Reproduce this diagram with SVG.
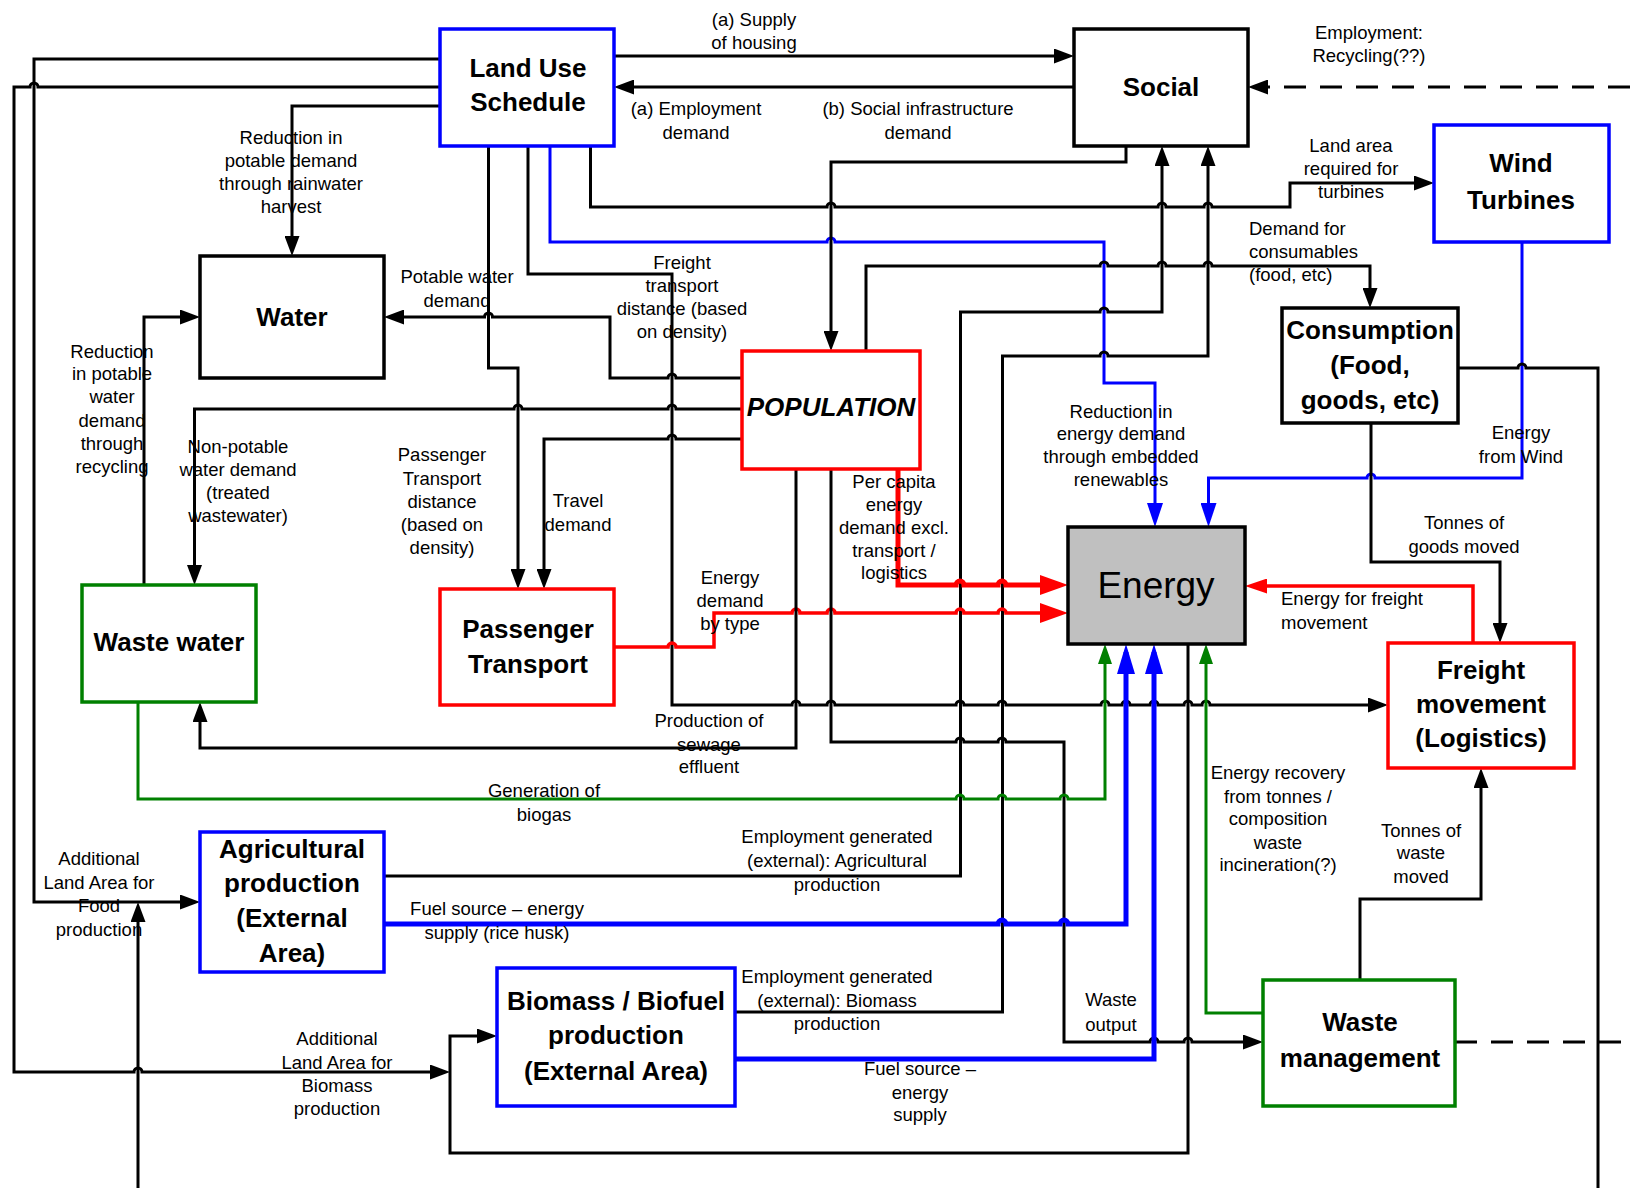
<svg xmlns="http://www.w3.org/2000/svg" width="1630" height="1188" viewBox="0 0 1630 1188">
<style>
.box{fill:#fff;stroke-width:3.5}
.bk{stroke:#000}.bl{stroke:#0000ff}.rd{stroke:#ff0000}.gr{stroke:#008000}
.nt{font-family:"Liberation Sans",Arial,sans-serif;font-size:26px;font-weight:bold;text-anchor:middle;fill:#000}
.lt{font-family:"Liberation Sans",Arial,sans-serif;font-size:18.5px;text-anchor:middle;fill:#000}
.ll{text-anchor:start}
.c{fill:none;stroke-width:3;stroke-linejoin:miter}
.th{stroke-width:5}
.dash{stroke-dasharray:22 14}
</style>
<defs>
<marker id="ab" markerUnits="userSpaceOnUse" viewBox="0 0 20 15" markerWidth="20" markerHeight="15" refX="12" refY="7.5" orient="auto"><path d="M0,0L20,7.5L0,15Z" fill="#000"/></marker>
<marker id="ar" markerUnits="userSpaceOnUse" viewBox="0 0 28 20" markerWidth="28" markerHeight="20" refX="20" refY="10" orient="auto"><path d="M0,0L28,10L0,20Z" fill="#ff0000"/></marker>
<marker id="ars" markerUnits="userSpaceOnUse" viewBox="0 0 22 15" markerWidth="22" markerHeight="15" refX="14" refY="7.5" orient="auto"><path d="M0,0L22,7.5L0,15Z" fill="#ff0000"/></marker>
<marker id="abl" markerUnits="userSpaceOnUse" viewBox="0 0 30 18" markerWidth="30" markerHeight="18" refX="22" refY="9" orient="auto"><path d="M0,0L30,9L0,18Z" fill="#0000ff"/></marker>
<marker id="abt" markerUnits="userSpaceOnUse" viewBox="0 0 24 16" markerWidth="24" markerHeight="16" refX="16" refY="8" orient="auto"><path d="M0,0L24,8L0,16Z" fill="#0000ff"/></marker>
<marker id="ag" markerUnits="userSpaceOnUse" viewBox="0 0 20 14" markerWidth="20" markerHeight="14" refX="12" refY="7" orient="auto"><path d="M0,0L20,7L0,14Z" fill="#008000"/></marker>
</defs>
<rect width="1630" height="1188" fill="#fff"/>

<g id="connectors">
<path class="c bk" marker-end="url(#ab)" d="M614,56L1066,56"/>
<path class="c bk" marker-end="url(#ab)" d="M1074,87L622,87"/>
<path class="c bk dash" marker-end="url(#ab)" d="M1630,87L1256,87"/>
<path class="c bk" marker-end="url(#ab)" d="M440,59L34,59L34,902L192,902"/>
<path class="c bk" marker-end="url(#ab)" d="M440,87L38,87A4,4 0 0 0 30,87L14,87L14,1072L134,1072A4,4 0 0 1 142,1072L442,1072"/>
<path class="c bk" marker-end="url(#ab)" d="M440,106L292,106L292,248"/>
<path class="c bk" marker-end="url(#ab)" d="M590.5,146L590.5,207L827,207A4,4 0 0 1 835,207L1158,207A4,4 0 0 1 1166,207L1204,207A4,4 0 0 1 1212,207L1290,207L1290,183L1426,183"/>
<path class="c bl" marker-end="url(#abt)" d="M550,146L550,242L827,242A4,4 0 0 1 835,242L1104,242L1104,383L1155,383L1155,519"/>
<path class="c bk" marker-end="url(#ab)" d="M528,146L528,274L672,274L672,705L792,705A4,4 0 0 1 800,705L827,705A4,4 0 0 1 835,705L956,705A4,4 0 0 1 964,705L998,705A4,4 0 0 1 1006,705L1101,705A4,4 0 0 1 1109,705L1122,705A4,4 0 0 1 1130,705L1150,705A4,4 0 0 1 1158,705L1184,705A4,4 0 0 1 1192,705L1202,705A4,4 0 0 1 1210,705L1380,705"/>
<path class="c bk" marker-end="url(#ab)" d="M488.5,146L488.5,368L518,368L518,581"/>
<path class="c bk" marker-end="url(#ab)" d="M742,378L676,378A4,4 0 0 0 668,378L610,378L610,317L492.5,317A4,4 0 0 0 484.5,317L392,317"/>
<path class="c bk" marker-end="url(#ab)" d="M742,409L676,409A4,4 0 0 0 668,409L522,409A4,4 0 0 0 514,409L194.5,409L194.5,577"/>
<path class="c bk" marker-end="url(#ab)" d="M742,439L676,439A4,4 0 0 0 668,439L544,439L544,581"/>
<path class="c bk" marker-end="url(#ab)" d="M144,585L144,317L192,317"/>
<path class="c bk" marker-end="url(#ab)" d="M1126,146L1126,162L831,162L831,343"/>
<path class="c bk" marker-end="url(#ab)" d="M866,351L866,266L1100,266A4,4 0 0 1 1108,266L1158,266A4,4 0 0 1 1166,266L1204,266A4,4 0 0 1 1212,266L1370,266L1370,300"/>
<path class="c bk" marker-end="url(#ab)" d="M384,876L960.5,876L960.5,312L1100,312A4,4 0 0 1 1108,312L1162,312L1162,154"/>
<path class="c bk" marker-end="url(#ab)" d="M735,1012L1002.5,1012L1002.5,356L1100,356A4,4 0 0 1 1108,356L1208,356L1208,154"/>
<path class="c bl" marker-end="url(#abt)" d="M1522,242L1522,478L1375,478A4,4 0 0 0 1367,478L1208.5,478L1208.5,519"/>
<path class="c bk" d="M1458,368L1518,368A4,4 0 0 1 1526,368L1598,368L1598,1188"/>
<path class="c bk" marker-end="url(#ab)" d="M1371,423L1371,562L1500,562L1500,635"/>
<path class="c rd" style="stroke-width:3.5" marker-end="url(#ars)" d="M1473,643L1473,586L1253,586"/>
<path class="c rd th" marker-end="url(#ar)" d="M898,469L898,585L956,585A4,4 0 0 1 964,585L998,585A4,4 0 0 1 1006,585L1060,585"/>
<path class="c rd" style="stroke-width:3.5" marker-end="url(#ar)" d="M614,647L668,647A4,4 0 0 1 676,647L714,647L714,613L792,613A4,4 0 0 1 800,613L827,613A4,4 0 0 1 835,613L956,613A4,4 0 0 1 964,613L998,613A4,4 0 0 1 1006,613L1060,613"/>
<path class="c bk" marker-end="url(#ab)" d="M796,469L796,748L200,748L200,710"/>
<path class="c bk" marker-end="url(#ab)" d="M831,469L831,742L956,742A4,4 0 0 1 964,742L998,742A4,4 0 0 1 1006,742L1064,742L1064,1042L1150,1042A4,4 0 0 1 1158,1042L1184,1042A4,4 0 0 1 1192,1042L1255,1042"/>
<path class="c gr" marker-end="url(#ag)" d="M138,702L138,799L956,799A4,4 0 0 1 964,799L998,799A4,4 0 0 1 1006,799L1060,799A4,4 0 0 1 1068,799L1105,799L1105,652"/>
<path class="c bl th" marker-end="url(#abl)" d="M384,924L998,924A4,4 0 0 1 1006,924L1060,924A4,4 0 0 1 1068,924L1126,924L1126,652"/>
<path class="c bl th" marker-end="url(#abl)" d="M735,1059L1154,1059L1154,652"/>
<path class="c bk" marker-end="url(#ab)" d="M1188,644L1188,1153L450,1153L450,1036L489,1036"/>
<path class="c bk" marker-end="url(#ab)" d="M138,1188L138,910"/>
<path class="c gr" marker-end="url(#ag)" d="M1263,1013L1206,1013L1206,652"/>
<path class="c bk" marker-end="url(#ab)" d="M1360,980L1360,899L1481,899L1481,776"/>
<path class="c bk dash" d="M1455,1042L1630,1042"/>
</g>

<g id="connector-labels" class="lt">
<text x="754" y="26">(a) Supply</text><text x="754" y="49">of housing</text>
<text x="696" y="115">(a) Employment</text><text x="696" y="139">demand</text>
<text x="918" y="115">(b) Social infrastructure</text><text x="918" y="139">demand</text>
<text x="1369" y="39">Employment:</text><text x="1369" y="62">Recycling(??)</text>
<text x="1351" y="152">Land area</text><text x="1351" y="175">required for</text><text x="1351" y="198">turbines</text>
<text class="ll" x="1249" y="235">Demand for</text><text class="ll" x="1249" y="258">consumables</text><text class="ll" x="1249" y="281">(food, etc)</text>
<text x="291" y="144">Reduction in</text><text x="291" y="167">potable demand</text><text x="291" y="190">through rainwater</text><text x="291" y="213">harvest</text>
<text x="457" y="283">Potable water</text><text x="457" y="307">demand</text>
<text x="682" y="269">Freight</text><text x="682" y="292">transport</text><text x="682" y="315">distance (based</text><text x="682" y="338">on density)</text>
<text x="112" y="358">Reduction</text><text x="112" y="380">in potable</text><text x="112" y="403">water</text><text x="112" y="427">demand</text><text x="112" y="450">through</text><text x="112" y="473">recycling</text>
<text x="238" y="453">Non-potable</text><text x="238" y="476">water demand</text><text x="238" y="499">(treated</text><text x="238" y="522">wastewater)</text>
<text x="442" y="461">Passenger</text><text x="442" y="485">Transport</text><text x="442" y="508">distance</text><text x="442" y="531">(based on</text><text x="442" y="554">density)</text>
<text x="578" y="507">Travel</text><text x="578" y="531">demand</text>
<text x="730" y="584">Energy</text><text x="730" y="607">demand</text><text x="730" y="630">by type</text>
<text x="709" y="727">Production of</text><text x="709" y="751">sewage</text><text x="709" y="773">effluent</text>
<text x="544" y="797">Generation of</text><text x="544" y="821">biogas</text>
<text x="1121" y="418">Reduction in</text><text x="1121" y="440">energy demand</text><text x="1121" y="463">through embedded</text><text x="1121" y="486">renewables</text>
<text x="894" y="488">Per capita</text><text x="894" y="511">energy</text><text x="894" y="534">demand excl.</text><text x="894" y="557">transport /</text><text x="894" y="579">logistics</text>
<text x="1521" y="439">Energy</text><text x="1521" y="463">from Wind</text>
<text x="1464" y="529">Tonnes of</text><text x="1464" y="553">goods moved</text>
<text class="ll" x="1281" y="605">Energy for freight</text><text class="ll" x="1281" y="629">movement</text>
<text x="1278" y="779">Energy recovery</text><text x="1278" y="803">from tonnes /</text><text x="1278" y="825">composition</text><text x="1278" y="849">waste</text><text x="1278" y="871">incineration(?)</text>
<text x="1421" y="837">Tonnes of</text><text x="1421" y="859">waste</text><text x="1421" y="883">moved</text>
<text x="837" y="843">Employment generated</text><text x="837" y="867">(external): Agricultural</text><text x="837" y="891">production</text>
<text x="837" y="983">Employment generated</text><text x="837" y="1007">(external): Biomass</text><text x="837" y="1030">production</text>
<text x="497" y="915">Fuel source – energy</text><text x="497" y="939">supply (rice husk)</text>
<text x="1111" y="1006">Waste</text><text x="1111" y="1031">output</text>
<text x="920" y="1075">Fuel source –</text><text x="920" y="1099">energy</text><text x="920" y="1121">supply</text>
<text x="99" y="865">Additional</text><text x="99" y="889">Land Area for</text><text x="99" y="912">Food</text><text x="99" y="936">production</text>
<text x="337" y="1045">Additional</text><text x="337" y="1069">Land Area for</text><text x="337" y="1092">Biomass</text><text x="337" y="1115">production</text>
</g>

<g id="land-use"><rect class="box bl" x="440" y="29" width="174" height="117"/><text class="nt" x="528" y="77">Land Use</text><text class="nt" x="528" y="111">Schedule</text></g>
<g id="social"><rect class="box bk" x="1074" y="29" width="174" height="117"/><text class="nt" x="1161" y="96">Social</text></g>
<g id="wind-turbines"><rect class="box bl" x="1434" y="125" width="175" height="117"/><text class="nt" x="1521" y="172">Wind</text><text class="nt" x="1521" y="209">Turbines</text></g>
<g id="water"><rect class="box bk" x="200" y="256" width="184" height="122"/><text class="nt" x="292" y="326">Water</text></g>
<g id="consumption"><rect class="box bk" x="1282" y="308" width="176" height="115"/><text class="nt" x="1370" y="339">Consumption</text><text class="nt" x="1370" y="374">(Food,</text><text class="nt" x="1370" y="409">goods, etc)</text></g>
<g id="population"><rect class="box rd" x="742" y="351" width="178" height="118"/><text class="nt" x="831" y="416" font-style="italic">POPULATION</text></g>
<g id="energy"><rect class="box bk" x="1068" y="527" width="177" height="117" fill="#c0c0c0" style="fill:#c0c0c0"/><text class="nt" x="1156" y="598" style="font-size:37px;font-weight:normal">Energy</text></g>
<g id="waste-water"><rect class="box gr" x="82" y="585" width="174" height="117"/><text class="nt" x="169" y="651">Waste water</text></g>
<g id="passenger-transport"><rect class="box rd" x="440" y="589" width="174" height="116"/><text class="nt" x="528" y="638">Passenger</text><text class="nt" x="528" y="673">Transport</text></g>
<g id="freight-movement"><rect class="box rd" x="1388" y="643" width="186" height="125"/><text class="nt" x="1481" y="679">Freight</text><text class="nt" x="1481" y="713">movement</text><text class="nt" x="1481" y="747">(Logistics)</text></g>
<g id="agricultural-production"><rect class="box bl" x="200" y="832" width="184" height="140"/><text class="nt" x="292" y="858">Agricultural</text><text class="nt" x="292" y="892">production</text><text class="nt" x="292" y="927">(External</text><text class="nt" x="292" y="962">Area)</text></g>
<g id="biomass-production"><rect class="box bl" x="497" y="968" width="238" height="138"/><text class="nt" x="616" y="1010">Biomass / Biofuel</text><text class="nt" x="616" y="1044">production</text><text class="nt" x="616" y="1080">(External Area)</text></g>
<g id="waste-management"><rect class="box gr" x="1263" y="980" width="192" height="126"/><text class="nt" x="1360" y="1031">Waste</text><text class="nt" x="1360" y="1067">management</text></g>
</svg>
